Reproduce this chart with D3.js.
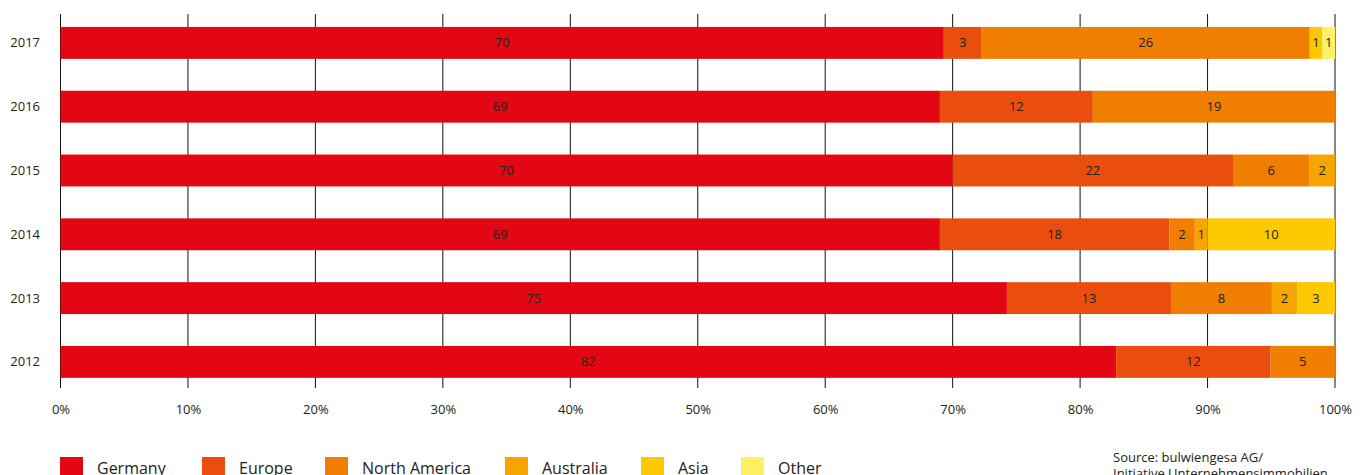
<!DOCTYPE html>
<html>
<head>
<meta charset="utf-8">
<script src="https://cdn.jsdelivr.net/npm/d3@7"></script>
<style>
  body { margin: 0; background: #fff; }
  text { font-family: "Open Sans", sans-serif; fill: #222; }
</style>
</head>
<body>
<div id="container"></div>
<script>
const WIDTH = 1364;
const HEIGHT = 475;

var years = ["2017", "2016", "2015", "2014", "2013", "2012"];
var regions = ["Germany", "Europe", "North America", "Australia", "Asia", "Other"];
var colors = ["#e30613", "#e94e0f", "#f07e00", "#f6a400", "#fec900", "#fff064"];

// shares in percent, one array per region, in the order of years
var germany      = [70, 69, 70, 69, 75, 82];
var europe       = [3, 12, 22, 18, 13, 12];
var northAmerica = [26, 19, 6, 2, 8, 5];
var australia    = [0, 0, 2, 1, 2, 0];
var asia         = [1, 0, 0, 10, 3, 0];
var other        = [1, 0, 0, 0, 0, 0];

var tickValues = [0, 0.1, 0.2, 0.3, 0.4, 0.5, 0.6, 0.7, 0.8, 0.9, 1];
var sourceLines = ["Source: bulwiengesa AG/", "Initiative Unternehmensimmobilien"];

var series = [germany, europe, northAmerica, australia, asia, other];
var rows = years.map(function (y, i) {
    var row = {year: y};
    regions.forEach(function (r, j) { row[r] = series[j][i]; });
    return row;
});

var stacked = d3.stack().keys(regions).offset(d3.stackOffsetExpand)(rows);

var XScale = d3.scaleLinear().domain([0, 1]).range([60.5, 1335]);
var YScale = d3.scaleBand().domain(years).range([11, 393.8]).paddingInner(0.5).paddingOuter(0.25);
var color = d3.scaleOrdinal().domain(regions).range(colors);

var svg = d3.select("#container").append("svg")
    .attr("width", WIDTH)
    .attr("height", HEIGHT);

// vertical grid lines
svg.append("g").selectAll("line")
    .data(tickValues)
    .join("line")
    .attr("x1", d => XScale(d))
    .attr("x2", d => XScale(d))
    .attr("y1", 14)
    .attr("y2", 388)
    .attr("stroke", "#111")
    .attr("stroke-width", 1);

// bars
var layer = svg.append("g").selectAll("g")
    .data(stacked)
    .join("g")
    .attr("fill", d => color(d.key));

layer.selectAll("rect")
    .data(d => d.filter(p => p[1] - p[0] > 0))
    .join("rect")
    .attr("x", d => XScale(d[0]))
    .attr("width", d => XScale(d[1]) - XScale(d[0]))
    .attr("y", d => YScale(d.data.year))
    .attr("height", YScale.bandwidth());

// value labels
stacked.forEach(function (s) {
    svg.append("g").selectAll("text")
        .data(s.filter(p => p[1] - p[0] > 0))
        .join("text")
        .attr("x", d => (XScale(d[0]) + XScale(d[1])) / 2)
        .attr("y", d => YScale(d.data.year) + YScale.bandwidth() / 2)
        .attr("dy", "0.35em")
        .attr("text-anchor", "middle")
        .attr("font-size", 13)
        .text(d => d.data[s.key]);
});

// year labels
svg.append("g").selectAll("text")
    .data(years)
    .join("text")
    .attr("x", 40)
    .attr("y", d => YScale(d) + YScale.bandwidth() / 2)
    .attr("dy", "0.35em")
    .attr("text-anchor", "end")
    .attr("font-size", 13)
    .text(d => d);

// x axis labels
var axis = svg.append("g")
    .attr("transform", "translate(0,388)")
    .call(d3.axisBottom(XScale).tickValues(tickValues).tickFormat(d3.format(".0%")).tickSize(0).tickPadding(17));
axis.select(".domain").remove();
axis.selectAll("text")
    .attr("font-size", 13)
    .attr("font-family", "Open Sans, sans-serif")
    .attr("fill", "#222");

// legend
var legendX = [60, 202, 325, 505, 641, 741];
var legend = svg.append("g").selectAll("g")
    .data(regions)
    .join("g")
    .attr("transform", (d, i) => "translate(" + legendX[i] + ",457)");
legend.append("rect")
    .attr("width", 23)
    .attr("height", 20)
    .attr("fill", d => color(d));
legend.append("text")
    .attr("x", 37)
    .attr("y", 17)
    .attr("font-size", 16)
    .text(d => d);

// source
svg.append("g").selectAll("text")
    .data(sourceLines)
    .join("text")
    .attr("x", 1113)
    .attr("y", (d, i) => 462 + i * 16)
    .attr("font-size", 13)
    .text(d => d);
</script>
</body>
</html>
